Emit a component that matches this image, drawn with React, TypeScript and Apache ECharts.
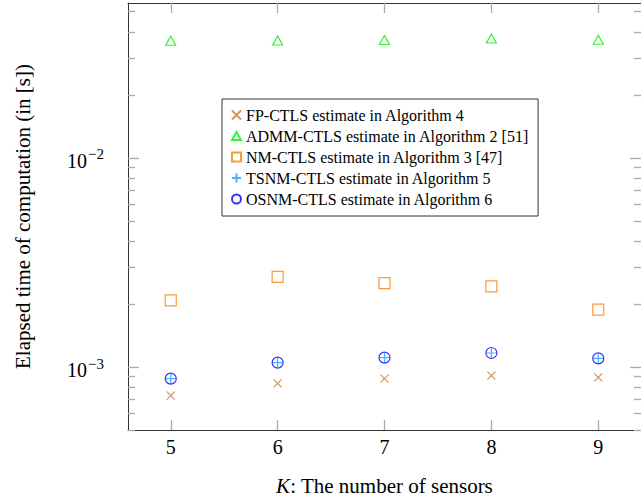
import React, { useEffect, useRef } from "react";
import * as echarts from "echarts";

const sensors = [5, 6, 7, 8, 9];
const fpCtls = [0.73e-3, 0.836e-3, 0.88e-3, 0.909e-3, 0.893e-3];
const admmCtls = [0.0363, 0.0364, 0.0366, 0.0372, 0.0367];
const nmCtls = [2.085e-3, 2.7e-3, 2.52e-3, 2.43e-3, 1.88e-3];
const tsnmCtls = [0.88e-3, 1.05e-3, 1.109e-3, 1.167e-3, 1.1e-3];
const osnmCtls = [0.88e-3, 1.05e-3, 1.109e-3, 1.167e-3, 1.1e-3];
const majorY = [1e-3, 1e-2];
const minorY = [5e-4, 6e-4, 7e-4, 8e-4, 9e-4, 2e-3, 3e-3, 4e-3, 5e-3, 6e-3, 7e-3, 8e-3, 9e-3, 2e-2, 3e-2, 4e-2, 5e-2];

const FONT = "'Liberation Serif', 'DejaVu Serif', serif";

const SYM_CROSS = "path://M0,0 L10,10 M10,0 L0,10";
const SYM_TRI = "path://M5,0 L10,9 L0,9 Z";
const SYM_SQUARE = "path://M0,0 L10,0 L10,10 L0,10 Z";
const SYM_PLUS = "path://M5,0 L5,10 M0,5 L10,5";
const SYM_CIRCLE = "path://M5,0 A5,5 0 1,1 5,10 A5,5 0 1,1 5,0 Z";

function pairs(ys: number[]) {
  return sensors.map((x, i) => [x, ys[i]]);
}

function mkSeries(name: string, ys: number[], symbol: string, size: any, color: string) {
  return {
    name,
    type: "scatter",
    xAxisIndex: 0,
    yAxisIndex: 0,
    data: pairs(ys),
    symbol,
    symbolSize: size,
    itemStyle: { color: "rgba(0,0,0,0)", borderColor: color, borderWidth: 1.2 },
    emphasis: { disabled: true },
  };
}

export default function App() {
  const ref = useRef<HTMLDivElement>(null);
  useEffect(() => {
    if (!ref.current) return;
    const chart = echarts.init(ref.current, null, { renderer: "svg" });
    const axisLine = { show: true, lineStyle: { color: "#333", width: 1 } };
    const tickStyle = { color: "#aaa", width: 1.3 };
    const xBase = {
      type: "value",
      min: 4.6,
      max: 9.4,
      splitLine: { show: false },
      axisLine,
    };
    const yBase = {
      type: "log",
      logBase: 10,
      min: 5e-4,
      max: 0.055,
      splitLine: { show: false },
    };
    chart.setOption({
      animation: false,
      backgroundColor: "#fff",
      grid: { left: 128, top: 3, right: -2, bottom: 72 },
      xAxis: [
        {
          ...xBase,
          position: "bottom",
          axisTick: { inside: true, length: 10, customValues: sensors, lineStyle: tickStyle },
          axisLabel: {
            customValues: sensors,
            margin: 7,
            fontFamily: FONT,
            fontSize: 20,
            color: "#000",
          },
          name: "{i|K}: The number of sensors",
          nameLocation: "middle",
          nameGap: 45,
          nameTextStyle: {
            fontFamily: FONT,
            fontSize: 21,
            color: "#000",
            rich: { i: { fontStyle: "italic", fontFamily: FONT, fontSize: 21, color: "#000" } },
          },
        },
        {
          ...xBase,
          position: "top",
          axisTick: { inside: true, length: 10, customValues: sensors, lineStyle: tickStyle },
          axisLabel: { show: false },
        },
      ],
      yAxis: [
        {
          ...yBase,
          position: "left",
          axisLine,
          axisTick: { inside: true, length: 11, customValues: majorY, lineStyle: tickStyle },
          axisLabel: {
            customValues: majorY,
            margin: 24,
            formatter: (v: number) => {
              const e = Math.round(Math.log10(v));
              return "{b|10}{s|\u2212" + Math.abs(e) + "}";
            },
            rich: {
              b: { fontFamily: FONT, fontSize: 20, color: "#000", padding: [6, 0, 0, 0] },
              s: { fontFamily: FONT, fontSize: 15, color: "#000", padding: [0, 0, 7, 1] },
            },
          },
          name: "Elapsed time of computation (in [s])",
          nameLocation: "middle",
          nameGap: 95,
          nameTextStyle: { fontFamily: FONT, fontSize: 21, color: "#000" },
        },
        {
          ...yBase,
          position: "left",
          axisLine: { show: false },
          axisTick: { inside: true, length: 7, customValues: minorY, lineStyle: tickStyle },
          axisLabel: { show: false },
        },
        {
          ...yBase,
          position: "right",
          axisLine,
          axisTick: { inside: true, length: 11, customValues: majorY, lineStyle: tickStyle },
          axisLabel: { show: false },
        },
        {
          ...yBase,
          position: "right",
          axisLine: { show: false },
          axisTick: { inside: true, length: 7, customValues: minorY, lineStyle: tickStyle },
          axisLabel: { show: false },
        },
      ],
      legend: {
        orient: "vertical",
        left: 222,
        top: 99,
        padding: [8, 9, 9, 9],
        itemGap: 5,
        itemWidth: 9,
        itemHeight: 9,
        borderColor: "#333",
        borderWidth: 1,
        backgroundColor: "#fff",
        textStyle: { fontFamily: FONT, fontSize: 16, color: "#000" },
        selectedMode: false,
      },
      series: [
        mkSeries("FP-CTLS estimate in Algorithm 4", fpCtls, SYM_CROSS, 8, "#c27a36"),
        mkSeries("ADMM-CTLS estimate in Algorithm 2 [51]", admmCtls, SYM_TRI, [10, 9], "#00f000"),
        mkSeries("NM-CTLS estimate in Algorithm 3 [47]", nmCtls, SYM_SQUARE, 11, "#ff8000"),
        mkSeries("TSNM-CTLS estimate in Algorithm 5", tsnmCtls, SYM_PLUS, 10, "#1a9cff"),
        mkSeries("OSNM-CTLS estimate in Algorithm 6", osnmCtls, SYM_CIRCLE, 11, "#0000ff"),
      ],
    });
    return () => chart.dispose();
  }, []);
  return (
    <div
      ref={ref}
      style={{ position: "fixed", left: 0, top: 0, width: 641, height: 502, background: "#fff" }}
    />
  );
}
